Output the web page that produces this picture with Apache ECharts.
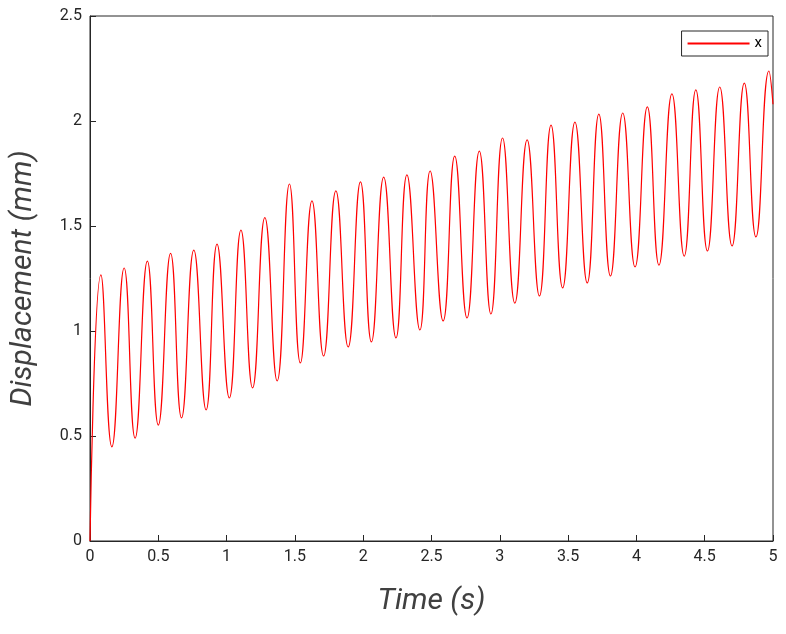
<!DOCTYPE html>
<html><head><meta charset="utf-8">
<script src="https://cdn.jsdelivr.net/npm/echarts@6/dist/echarts.min.js"></script>
<style>html,body{margin:0;background:#fff}#chartmain{width:786px;height:634px}</style>
</head><body><div id="chartmain"></div>
<script>
// peaks and troughs (time s, displacement mm)
var peakT = [0.08,0.25,0.42,0.59,0.76,0.93,1.105,1.28,1.46,1.625,1.80,1.98,2.15,2.32,2.49,2.67,2.85,3.02,3.2,3.375,3.55,3.725,3.9,4.08,4.26,4.435,4.61,4.79,4.97];
var peakX = [1.267,1.30,1.333,1.37,1.385,1.414,1.48,1.54,1.70,1.62,1.667,1.71,1.733,1.743,1.762,1.833,1.857,1.919,1.91,1.98,1.995,2.033,2.038,2.067,2.129,2.148,2.162,2.18,2.238];
var troughT = [0.16,0.33,0.50,0.67,0.85,1.02,1.19,1.37,1.54,1.71,1.89,2.06,2.24,2.415,2.585,2.76,2.935,3.11,3.29,3.46,3.64,3.81,3.99,4.165,4.35,4.52,4.70,4.875];
var troughX = [0.448,0.49,0.552,0.586,0.624,0.681,0.729,0.762,0.848,0.881,0.924,0.948,0.967,1.005,1.048,1.062,1.081,1.133,1.167,1.205,1.229,1.262,1.305,1.314,1.357,1.381,1.405,1.448];
var startPt = [0, 0];
var endPt = [5, 2.08];

var data = [startPt];
for (var i = 0; i < peakT.length; i++) {
    data.push([peakT[i], peakX[i]]);
    if (i < troughT.length) data.push([troughT[i], troughX[i]]);
}
data.push(endPt);

var axisText = {color: '#262626', fontSize: 16, fontFamily: 'Roboto'};
var option = {
    animation: false,
    grid: {left: 90, right: 13, top: 16, bottom: 93, show: true, borderColor: '#262626', borderWidth: 1},
    legend: {
        data: ['x'], right: 18, top: 31, orient: 'vertical',
        backgroundColor: '#fff', borderColor: '#262626', borderWidth: 1, padding: [5, 6],
        itemWidth: 62, itemHeight: 2, icon: 'rect',
        textStyle: {color: '#000', fontSize: 15, fontFamily: 'Roboto'}
    },
    xAxis: {
        type: 'value', min: 0, max: 5, interval: 0.5,
        name: 'Time (s)', nameLocation: 'middle', nameGap: 45,
        nameTextStyle: {fontSize: 30, fontStyle: 'italic', color: '#404040', fontFamily: 'Roboto'},
        axisLine: {lineStyle: {color: '#262626'}},
        axisTick: {inside: true, length: 6, lineStyle: {color: '#262626'}},
        axisLabel: axisText, splitLine: {show: false}
    },
    yAxis: {
        type: 'value', min: 0, max: 2.5, interval: 0.5,
        name: 'Displacement (mm)', nameLocation: 'middle', nameGap: 52,
        nameTextStyle: {fontSize: 30, fontStyle: 'italic', color: '#404040', fontFamily: 'Roboto'},
        axisLine: {show: true, lineStyle: {color: '#262626'}},
        axisTick: {show: true, inside: true, length: 6, lineStyle: {color: '#262626'}},
        axisLabel: axisText, splitLine: {show: false}
    },
    series: [{
        name: 'x', type: 'line', data: data, smooth: 0.5, showSymbol: false,
        lineStyle: {color: '#ff0000', width: 1.2}, itemStyle: {color: '#ff0000'}
    }]
};
var myChart = echarts.init(document.getElementById('chartmain'));
myChart.setOption(option);
</script></body></html>
